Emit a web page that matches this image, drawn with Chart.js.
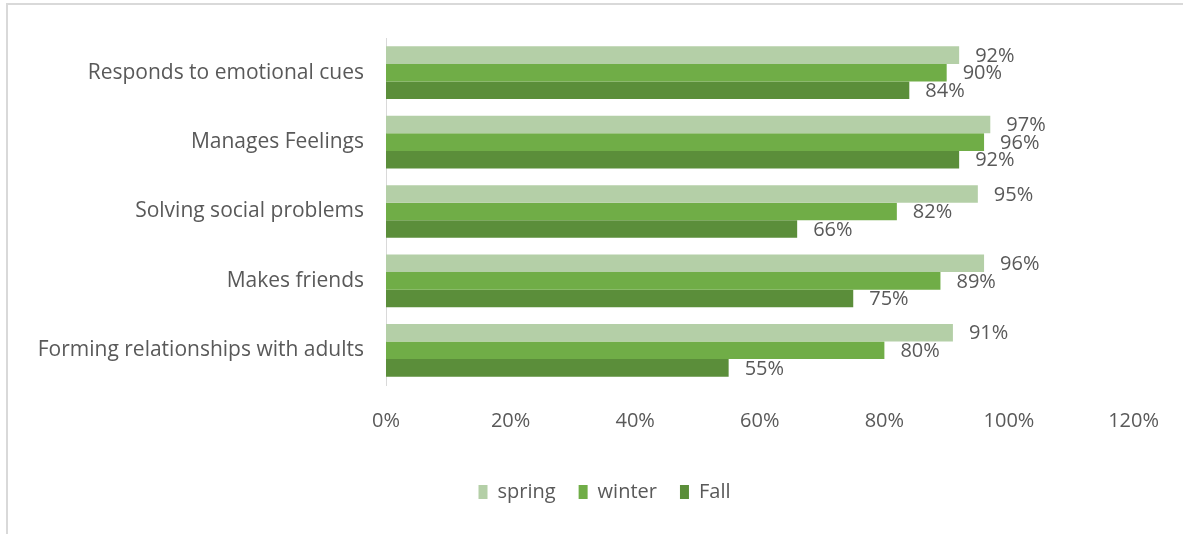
<!DOCTYPE html>
<html>
<head>
<meta charset="utf-8">
<script src="https://cdn.jsdelivr.net/npm/chart.js@4/dist/chart.umd.min.js"></script>
<style>
  html, body { margin: 0; padding: 0; background: #ffffff; }
  #wrap { position: relative; width: 1183px; height: 534px; }
  #frame { position: absolute; left: 6px; top: 3px; right: 0; bottom: 0;
           border-top: 2px solid #d9d9d9; border-left: 2px solid #d9d9d9; pointer-events: none; }
  canvas { position: absolute; left: 0; top: 0; }
</style>
</head>
<body>
<div id="wrap">
  <canvas id="c" width="1183" height="534"></canvas>
  <div id="frame"></div>
</div>
<script>
const categories = [
  "Responds to emotional cues",
  "Manages Feelings",
  "Solving social problems",
  "Makes friends",
  "Forming relationships with adults"
];
const seriesNames = ["spring", "winter", "Fall"];
const springValues = [92, 97, 95, 96, 91];
const winterValues = [90, 96, 82, 89, 80];
const fallValues = [84, 92, 66, 75, 55];
const xTicks = [0, 20, 40, 60, 80, 100, 120];

const colors = ["#b4cfa7", "#70ad47", "#5b8e3a"];
const FONT = "'Open Sans', sans-serif";
const TEXT = "#595959";
const LEGEND_SHIFT = 37;

const dataLabelPlugin = {
  id: 'dataLabels',
  afterDatasetsDraw(chart) {
    const ctx = chart.ctx;
    ctx.save();
    ctx.font = "20px " + FONT;
    ctx.fillStyle = TEXT;
    ctx.textAlign = 'left';
    ctx.textBaseline = 'middle';
    chart.data.datasets.forEach((ds, i) => {
      const meta = chart.getDatasetMeta(i);
      meta.data.forEach((bar, j) => {
        ctx.fillText(ds.data[j] + '%', bar.x + 16, bar.y + 1);
      });
    });
    ctx.restore();
  }
};

const legendShiftPlugin = {
  id: 'legendShift',
  afterLayout(chart) {
    if (chart.legend) {
      chart.legend.left += LEGEND_SHIFT;
      chart.legend.right += LEGEND_SHIFT;
    }
  }
};

new Chart(document.getElementById('c'), {
  type: 'bar',
  data: {
    labels: categories,
    datasets: [
      { label: seriesNames[0], data: springValues, backgroundColor: colors[0] },
      { label: seriesNames[1], data: winterValues, backgroundColor: colors[1] },
      { label: seriesNames[2], data: fallValues, backgroundColor: colors[2] }
    ]
  },
  options: {
    indexAxis: 'y',
    responsive: false,
    animation: false,
    devicePixelRatio: 1,
    layout: { padding: { left: 0, right: 48, top: 38, bottom: 22 } },
    datasets: { bar: { categoryPercentage: 0.76, barPercentage: 1.0 } },
    scales: {
      x: {
        min: 0, max: 120,
        afterBuildTicks(scale) { scale.ticks = xTicks.map(v => ({ value: v })); },
        afterFit(scale) { scale.height = 74; },
        grid: { display: false, drawTicks: false },
        border: { display: false },
        ticks: {
          padding: 24,
          color: TEXT,
          font: { family: FONT, size: 20 },
          callback: v => v + '%'
        }
      },
      y: {
        afterFit(scale) { scale.width = 386; },
        grid: { display: false, drawTicks: false },
        border: { display: true, color: '#d9d9d9', width: 1 },
        ticks: {
          padding: 22,
          color: TEXT,
          font: { family: FONT, size: 21 }
        }
      }
    },
    plugins: {
      tooltip: { enabled: false },
      legend: {
        position: 'bottom',
        labels: {
          color: TEXT,
          font: { family: FONT, size: 20 },
          boxWidth: 9,
          boxHeight: 14,
          padding: 23
        }
      }
    }
  },
  plugins: [dataLabelPlugin, legendShiftPlugin]
});
</script>
</body>
</html>
